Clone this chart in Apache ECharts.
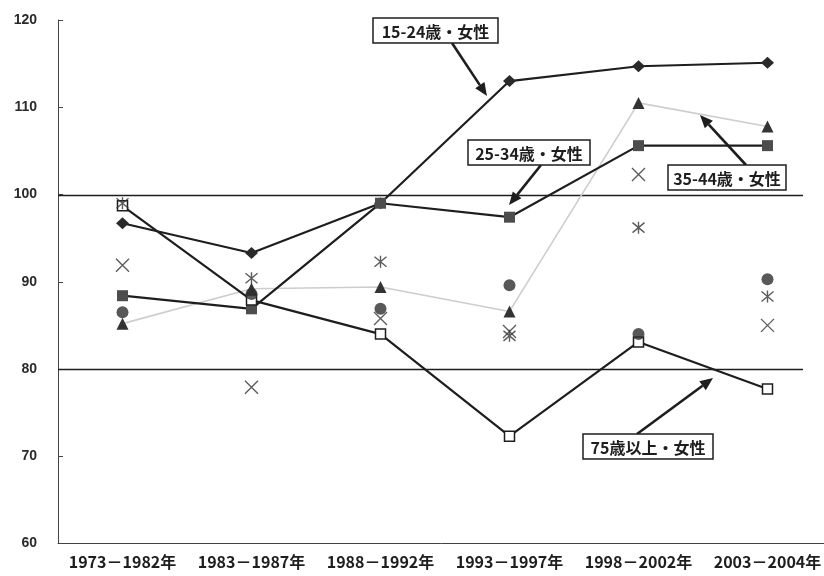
<!DOCTYPE html>
<html>
<head>
<meta charset="utf-8">
<script src="https://cdn.jsdelivr.net/npm/echarts@6/dist/echarts.min.js"></script>
<style>
  html, body { margin: 0; padding: 0; background: #fff; }
  #chart { width: 824px; height: 576px; }
</style>
</head>
<body>
<div id="chart"></div>
<script>
// Periods on the horizontal axis
const categories = ['1973－1982年', '1983－1987年', '1988－1992年', '1993－1997年', '1998－2002年', '2003－2004年'];

// Index values per age group (women)
const age15to24 = [96.7, 93.3, 99.0, 113.0, 114.7, 115.1];
const age25to34 = [88.4, 86.9, 99.0, 97.4, 105.6, 105.6];
const age35to44 = [85.2, 89.2, 89.4, 86.6, 110.5, 107.8];
const age45to54 = [91.9, 77.9, 85.8, 84.3, 102.3, 85.0];
const age55to64 = [99.0, 90.4, 92.3, 83.8, 96.2, 88.3];
const age65to74 = [86.5, 88.6, 86.9, 89.6, 84.0, 90.3];
const age75plus = [98.7, 87.9, 84.0, 72.3, 83.1, 77.7];

// Reference levels drawn across the plot
const referenceLevels = [100, 80];

// Value axis range
const yMin = 60, yMax = 120, yStep = 10;

const INK = '#1e1e1e';
const CJK = '"Noto Sans CJK JP", "Noto Sans", sans-serif';

const crossPath = 'path://M0,0L10,10M10,0L0,10';
const starPath = 'path://M0,0L10,10M10,0L0,10M5,-1L5,11';

const GRID_LEFT = 58;
const REF_LINE_END = 803;

const chart = echarts.init(document.getElementById('chart'));

function arrow(x1, y1, x2, y2) {
  const a = Math.atan2(y2 - y1, x2 - x1);
  const L = 13, W = 5.5;
  const bx = x2 - L * Math.cos(a), by = y2 - L * Math.sin(a);
  const s = Math.sin(a), c = Math.cos(a);
  return [
    { type: 'line', z: 100, shape: { x1: x1, y1: y1, x2: bx, y2: by },
      style: { stroke: INK, lineWidth: 2.6 } },
    { type: 'polygon', z: 100,
      shape: { points: [[x2, y2], [bx + W * s, by - W * c], [bx - W * s, by + W * c]] },
      style: { fill: INK } }
  ];
}

function callout(x, y, w, h, text) {
  return [
    { type: 'rect', z: 101, shape: { x: x, y: y, width: w, height: h },
      style: { fill: '#fff', stroke: INK, lineWidth: 1.5 } },
    { type: 'text', z: 102,
      style: { x: x + w / 2, y: y + h / 2 + 1, text: text, align: 'center', verticalAlign: 'middle',
               font: 'bold 16px ' + CJK, fill: INK } }
  ];
}

const annotations = [].concat(
  arrow(452, 43, 487, 96),
  arrow(541, 165, 509, 205),
  arrow(746, 165, 700, 115),
  arrow(637, 434, 713, 378),
  callout(373, 18, 125, 25, '15-24歳・女性'),
  callout(468, 140, 122, 25, '25-34歳・女性'),
  callout(668, 165, 118, 25, '35-44歳・女性'),
  callout(583, 434, 130, 25, '75歳以上・女性')
);

const option = {
  animation: false,
  backgroundColor: '#fff',
  grid: { left: GRID_LEFT, top: 20, width: 774, height: 523.5, containLabel: false, outerBoundsMode: 'none' },
  xAxis: {
    type: 'category',
    data: categories,
    boundaryGap: true,
    axisLine: { lineStyle: { color: '#444', width: 1 } },
    axisTick: { inside: true, length: 4, lineStyle: { color: '#444' } },
    axisLabel: { color: INK, fontFamily: CJK, fontWeight: 'bold', fontSize: 16, margin: 10, interval: 0 },
    splitLine: { show: false }
  },
  yAxis: {
    type: 'value',
    min: yMin, max: yMax, interval: yStep,
    axisLine: { show: true, lineStyle: { color: '#444', width: 1 } },
    axisTick: { show: true, inside: true, length: 5, lineStyle: { color: '#444' } },
    axisLabel: { color: '#2a2a2a', fontFamily: '"Liberation Sans", Arial, sans-serif', fontWeight: 'bold', fontSize: 14, margin: 21 },
    splitLine: { show: false }
  },
  series: [
    {
      name: '35-44歳・女性', type: 'line', data: age35to44, z: 2,
      lineStyle: { color: '#cdcdcd', width: 1.6 },
      symbol: 'triangle', symbolSize: 12,
      itemStyle: { color: '#333' }
    },
    {
      name: '15-24歳・女性', type: 'line', data: age15to24, z: 3,
      lineStyle: { color: INK, width: 2.2 },
      symbol: 'diamond', symbolSize: [13, 12],
      itemStyle: { color: '#2a2a2a' }
    },
    {
      name: '25-34歳・女性', type: 'line', data: age25to34, z: 3,
      lineStyle: { color: INK, width: 2.2 },
      symbol: 'rect', symbolSize: 11,
      itemStyle: { color: '#4d4d4d' }
    },
    {
      name: '75歳以上・女性', type: 'line', data: age75plus, z: 3,
      lineStyle: { color: INK, width: 2.2 },
      symbol: 'rect', symbolSize: 10,
      itemStyle: { color: '#fff', borderColor: INK, borderWidth: 1.5 }
    },
    {
      name: '45-54歳・女性', type: 'scatter', data: age45to54, z: 4,
      symbol: crossPath, symbolSize: 13,
      itemStyle: { color: 'none', borderColor: '#333', borderWidth: 1.4 }
    },
    {
      name: '55-64歳・女性', type: 'scatter', data: age55to64, z: 4,
      symbol: starPath, symbolSize: 12,
      itemStyle: { color: 'none', borderColor: '#333', borderWidth: 1.4 }
    },
    {
      name: '65-74歳・女性', type: 'scatter', data: age65to74, z: 4,
      symbol: 'circle', symbolSize: 12,
      itemStyle: { color: '#2e2e2e' }
    }
  ]
};

chart.setOption(option);

// Horizontal reference lines, placed through the value axis scale
const refLines = referenceLevels.map(v => {
  const y = Math.round(chart.convertToPixel({ yAxisIndex: 0 }, v)) + 0.5;
  return { type: 'line', z: 1, silent: true,
           shape: { x1: GRID_LEFT, y1: y, x2: REF_LINE_END, y2: y },
           style: { stroke: INK, lineWidth: 1.5 } };
});

chart.setOption({ graphic: refLines.concat(annotations) });
</script>
</body>
</html>
